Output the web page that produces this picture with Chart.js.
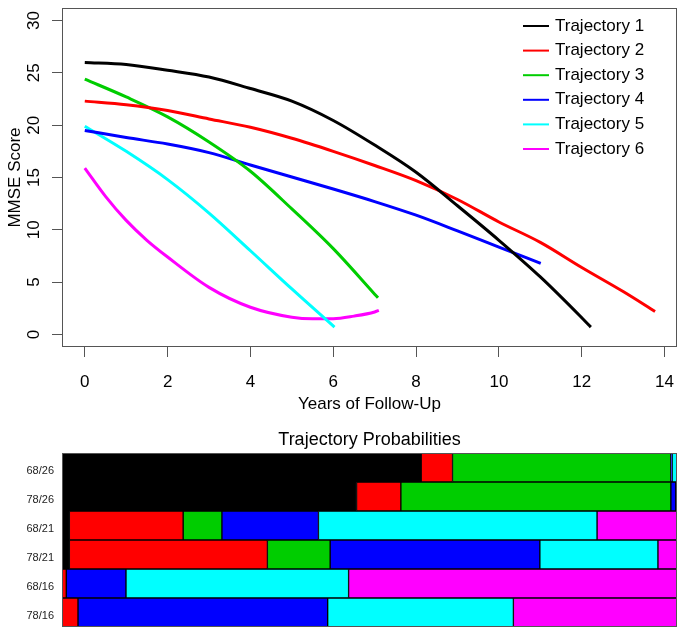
<!DOCTYPE html>
<html><head><meta charset="utf-8">
<script src="https://cdn.jsdelivr.net/npm/chart.js@4.4.0/dist/chart.umd.min.js"></script>
<style>
html,body{margin:0;padding:0;background:#fff;width:686px;height:636px;overflow:hidden}
#c1{position:absolute;left:0;top:0}
#c2{position:absolute;left:0;top:420px}
</style></head><body>
<canvas id="c1" width="686" height="420"></canvas>
<canvas id="c2" width="686" height="216"></canvas>
<script>
// ---------- data ----------
const seriesNames = ['Trajectory 1','Trajectory 2','Trajectory 3','Trajectory 4','Trajectory 5','Trajectory 6'];
const seriesColors = ['#000000','#FF0000','#00CD00','#0000FF','#00FFFF','#FF00FF'];

const years1 = [0,1,2,3,4,5,6,7,8,9,10,11,12,12.22];
const mmse1  = [26.0,25.8,25.25,24.6,23.5,22.3,20.45,18.1,15.5,12.3,9.0,5.5,1.6,0.7];
const years2 = [0,1,2,3,4,5,6,7,8,9,10,11,12,13,13.77];
const mmse2  = [22.3,21.95,21.4,20.6,19.8,18.75,17.5,16.15,14.7,12.9,10.75,8.8,6.4,4.1,2.2];
const years3 = [0,1,2,3,4,5,6,7,7.08];
const mmse3  = [24.4,22.7,20.8,18.4,15.6,12.0,8.2,3.85,3.5];
const years4 = [0,1,2,3,4,5,6,7,8,9,10,11.01];
const mmse4  = [19.5,18.82,18.2,17.38,16.2,15.05,13.9,12.7,11.4,9.9,8.35,6.8];
const years5 = [0,1,2,3,4,5,6.03];
const mmse5  = [19.9,17.5,14.8,11.6,8.0,4.35,0.7];
const years6 = [0,0.5,1,1.5,2,3,4,5,5.5,6,6.5,7,7.1];
const mmse6  = [15.9,13.2,10.9,9.0,7.4,4.5,2.6,1.65,1.5,1.5,1.75,2.15,2.3];

const xTicks = [0,2,4,6,8,10,12,14];
const yTicks = [0,5,10,15,20,25,30];

const groups = ['68/26','78/26','68/21','78/21','68/16','78/16'];
const prob1 = [0.584,0.479,0.012,0.012,0.000,0.000];
const prob2 = [0.051,0.072,0.185,0.322,0.007,0.026];
const prob3 = [0.355,0.439,0.063,0.102,0.000,0.000];
const prob4 = [0.002,0.008,0.157,0.341,0.097,0.406];
const prob5 = [0.008,0.002,0.453,0.192,0.362,0.302];
const prob6 = [0.000,0.000,0.130,0.031,0.534,0.266];

// ---------- common ----------
const FONT = '"Liberation Sans", Arial, Helvetica, sans-serif';
Chart.defaults.font.family = FONT;
Chart.defaults.color = '#000';
const BOXC = '#555';

const yearsAll = [years1,years2,years3,years4,years5,years6];
const mmseAll = [mmse1,mmse2,mmse3,mmse4,mmse5,mmse6];
const probAll = [prob1,prob2,prob3,prob4,prob5,prob6];

function noPad(s) { s.paddingTop = 0; s.paddingBottom = 0; s.paddingLeft = 0; s.paddingRight = 0; }

const boxPlugin = {
  id: 'boxPlugin',
  afterDraw(chart) {
    const a = chart.chartArea, ctx = chart.ctx;
    ctx.save();
    ctx.strokeStyle = BOXC; ctx.lineWidth = 1;
    ctx.strokeRect(Math.round(a.left)+0.5, Math.round(a.top)+0.5, Math.round(a.right-a.left)-1, Math.round(a.bottom-a.top)-1);
    ctx.restore();
  }
};

const yLabelPlugin = {
  id: 'yLabelPlugin',
  afterDraw(chart) {
    const ctx = chart.ctx, ys = chart.scales.y;
    ctx.save();
    ctx.font = '17px ' + FONT;
    ctx.fillStyle = '#000';
    ctx.textAlign = 'center';
    ctx.textBaseline = 'middle';
    yTicks.forEach(v => {
      const py = ys.getPixelForValue(v);
      ctx.save();
      ctx.translate(34, py);
      ctx.rotate(-Math.PI/2);
      ctx.fillText(String(v), 0, 0);
      ctx.restore();
    });
    ctx.restore();
  }
};

const legendPlugin = {
  id: 'legendPlugin',
  afterDraw(chart) {
    const ctx = chart.ctx;
    ctx.save();
    ctx.font = '17px ' + FONT;
    ctx.textAlign = 'left';
    ctx.textBaseline = 'middle';
    chart.data.datasets.forEach((ds, i) => {
      const y = 26 + i * 24.6;
      ctx.strokeStyle = ds.borderColor;
      ctx.lineWidth = 2;
      ctx.beginPath(); ctx.moveTo(523, y); ctx.lineTo(549, y); ctx.stroke();
      ctx.fillStyle = '#000';
      ctx.fillText(ds.label, 555, y);
    });
    ctx.restore();
  }
};

// ---------- top chart ----------
new Chart(document.getElementById('c1'), {
  type: 'line',
  data: {
    datasets: seriesNames.map((name, i) => ({
      label: name,
      data: yearsAll[i].map((x, j) => ({x: x, y: mmseAll[i][j]})),
      borderColor: seriesColors[i],
      backgroundColor: seriesColors[i],
      borderWidth: 3,
      pointRadius: 0,
      fill: false,
      cubicInterpolationMode: 'monotone'
    }))
  },
  options: {
    responsive: false,
    animation: false,
    layout: {padding: {top: 8, right: 9, left: 0, bottom: 0}},
    plugins: {legend: {display: false}, tooltip: {enabled: false}},
    scales: {
      x: {
        type: 'linear', min: -0.55, max: 14.3,
        afterBuildTicks: s => { s.ticks = xTicks.map(v => ({value: v})); },
        afterFit: s => { s.height = 73; noPad(s); },
        grid: {drawOnChartArea: false, drawTicks: true, tickLength: 10, color: BOXC},
        border: {display: false},
        ticks: {font: {size: 17}, padding: 15, maxRotation: 0, callback: v => String(v)},
        title: {display: true, text: 'Years of Follow-Up', font: {size: 17}, padding: {top: 0, bottom: 5}}
      },
      y: {
        type: 'linear', min: -1.2, max: 31.2,
        afterBuildTicks: s => { s.ticks = yTicks.map(v => ({value: v})); },
        afterFit: s => { s.width = 62; noPad(s); },
        grid: {drawOnChartArea: false, drawTicks: true, tickLength: 10, color: BOXC},
        border: {display: false},
        ticks: {display: false},
        title: {display: true, text: 'MMSE Score', font: {size: 17}, padding: {top: 5, bottom: 0}}
      }
    }
  },
  plugins: [boxPlugin, yLabelPlugin, legendPlugin]
});

// ---------- bottom chart ----------
new Chart(document.getElementById('c2'), {
  type: 'bar',
  data: {
    labels: groups,
    datasets: seriesNames.map((name, i) => ({
      label: name,
      data: probAll[i],
      backgroundColor: seriesColors[i],
      borderColor: '#000',
      borderWidth: 1,
      borderSkipped: false,
      categoryPercentage: 1.0,
      barPercentage: 1.0
    }))
  },
  options: {
    indexAxis: 'y',
    responsive: false,
    animation: false,
    layout: {padding: {top: 0, right: 9, left: 0, bottom: 0}},
    plugins: {
      legend: {display: false}, tooltip: {enabled: false},
      title: {display: true, text: 'Trajectory Probabilities', fullSize: false,
              font: {size: 18, weight: 'normal'}, padding: {top: 9, bottom: 2.4}, color: '#000'}
    },
    scales: {
      x: {
        type: 'linear', min: 0, max: 1, stacked: true, display: true,
        afterFit: s => { s.height = 9; noPad(s); },
        grid: {display: false, drawTicks: false},
        border: {display: false},
        ticks: {display: false}
      },
      y: {
        type: 'category', stacked: true,
        afterFit: s => { s.width = 62; noPad(s); },
        grid: {display: false, drawTicks: false},
        border: {display: false},
        ticks: {font: {size: 11}, padding: 8, labelOffset: 3, color: '#222'}
      }
    }
  },
  plugins: [boxPlugin]
});
</script>
</body></html>
